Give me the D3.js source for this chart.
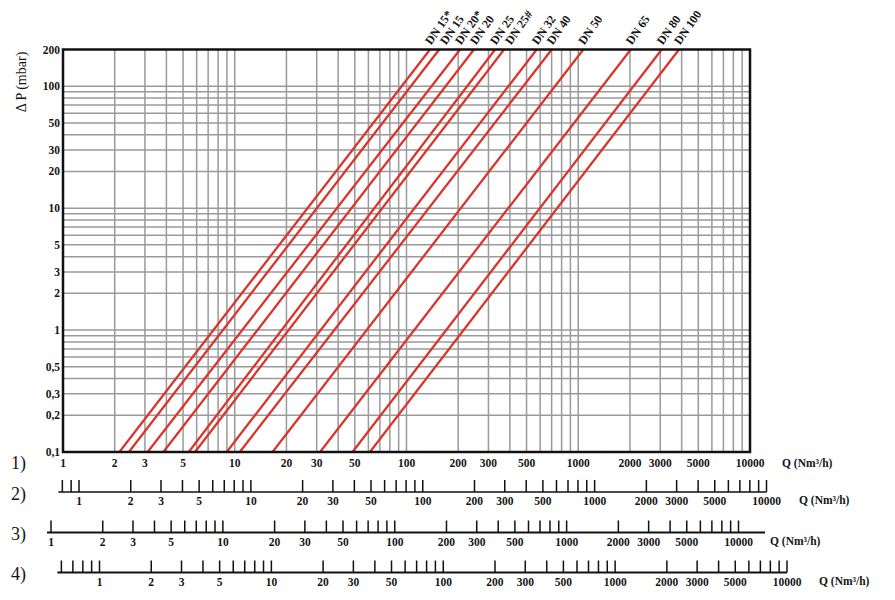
<!DOCTYPE html>
<html><head><meta charset="utf-8">
<script src="https://cdn.jsdelivr.net/npm/d3@7"></script>
<style>body{margin:0;background:#fff}svg{display:block}text{font-family:"Liberation Serif","DejaVu Serif",serif;fill:#151515}</style>
</head><body>
<svg id="c" width="895" height="600"></svg>
<script>
// ---- data ----
const series = ["DN 15*","DN 15","DN 20*","DN 20","DN 25","DN 25#","DN 32","DN 40","DN 50","DN 65","DN 80","DN 100"];
// Q (Nm3/h) where each line meets ΔP = 0.1 mbar and ΔP = 200 mbar
const qAtLow  = [2.13, 2.42, 3.11, 3.84, 5.40, 5.87, 8.98, 10.7, 16.6, 31.4, 48.5, 61.3];
const qAtHigh = [137, 155, 205, 247, 328, 370, 573, 701, 1070, 2021, 3061, 3861];
const dpLow = 0.1, dpHigh = 200;
const xLabels = [1,2,3,5,10,20,30,50,100,200,300,500,1000,2000,3000,5000,10000];
const yLabels = [200,100,50,30,20,10,5,3,2,1,0.5,0.3,0.2,0.1];
const axis2Extra = [0.8, 0.9];
const axis4Extra = [0.6, 0.7, 0.8, 0.9];
const axisNames = ["1)","2)","3)","4)"];
const qTitle = "Q (Nm³/h)";
const yTitle = "Δ P (mbar)";

// ---- layout ----
const svg = d3.select("#c");
const L = 63, R = 750, T = 49.5, B = 452;
const x = d3.scaleLog().domain([1,10000]).range([L,R]);
const y = d3.scaleLog().domain([0.1,200]).range([B,T]);

function logMinor(lo, hi){ const v=[]; for(let e=lo;e<hi;e++){for(let m=1;m<10;m++)v.push(m*Math.pow(10,e));} v.push(Math.pow(10,hi)); return v; }
const xGrid = logMinor(0,4);
const yGrid = logMinor(-1,2).filter(v=>v<=200);

const g = svg.append("g");
g.selectAll("line.vg").data(xGrid).join("line")
  .attr("x1",d=>x(d)).attr("x2",d=>x(d)).attr("y1",T).attr("y2",B)
  .attr("stroke","#9a9a9a").attr("stroke-width",1.5);
g.selectAll("line.hg").data(yGrid).join("line")
  .attr("y1",d=>y(d)).attr("y2",d=>y(d)).attr("x1",L).attr("x2",R)
  .attr("stroke","#9a9a9a").attr("stroke-width",1.5);

// red lines
svg.append("clipPath").attr("id","pc").append("rect").attr("x",L).attr("y",T).attr("width",R-L).attr("height",B-T);
const lineData = series.map((s,i)=>({name:s, pts:[[qAtLow[i],dpLow],[qAtHigh[i],dpHigh]]}));
const lineGen = d3.line().x(d=>x(d[0])).y(d=>y(d[1]));
svg.append("g").attr("clip-path","url(#pc)").selectAll("path").data(lineData).join("path")
  .attr("d",d=>lineGen(d.pts)).attr("fill","none").attr("stroke","#d9352c").attr("stroke-width",2.3);

// frame
svg.append("rect").attr("x",L).attr("y",T).attr("width",R-L).attr("height",B-T)
  .attr("fill","none").attr("stroke","#111").attr("stroke-width",2.5);

// series labels (avoid overlap)
let prev = -1e9;
lineData.forEach(d=>{
  let sx = Math.max(x(d.pts[1][0])+1, prev+15);
  prev = sx;
  svg.append("text").attr("transform",`translate(${sx},${T-4}) rotate(-55)`)
    .attr("font-size",12).attr("font-weight","bold").text(d.name);
});

// y labels
const fmt = v => String(v).replace(".",",");
svg.selectAll("text.yl").data(yLabels).join("text")
  .attr("x",L-3).attr("y",d=>y(d)).attr("dy","0.35em").attr("text-anchor","end")
  .attr("font-size",11.5).attr("font-weight","bold").text(fmt);
svg.append("text").attr("transform",`translate(26,82) rotate(-90)`).attr("text-anchor","middle")
  .attr("font-size",14).text(yTitle);

// axis 1 labels
svg.selectAll("text.xl").data(xLabels).join("text")
  .attr("x",d=>x(d)).attr("y",B+15).attr("text-anchor","middle")
  .attr("font-size",11.5).attr("font-weight","bold").text(d=>d);
svg.append("text").attr("x",782).attr("y",B+15).attr("font-size",11.5).attr("font-weight","bold").text(qTitle);

// extra axes
function extraAxis(x0, yLine, extra, lineEnd, lineW, titleX){
  const s = d3.scaleLog().domain([1,10000]).range([x0, x0+687.5]);
  const ticks = extra.concat(xGrid);
  const lo = d3.min(ticks);
  svg.append("line").attr("x1",s(lo)-4).attr("x2",lineEnd!=null?lineEnd:s(10000)).attr("y1",yLine).attr("y2",yLine)
    .attr("stroke","#111").attr("stroke-width",lineW);
  svg.append("g").selectAll("line").data(ticks).join("line")
    .attr("x1",d=>s(d)).attr("x2",d=>s(d)).attr("y1",yLine).attr("y2",yLine-12)
    .attr("stroke","#111").attr("stroke-width",1.5);
  svg.append("g").selectAll("text").data(xLabels).join("text")
    .attr("x",d=>s(d)).attr("y",yLine+13).attr("text-anchor","middle")
    .attr("font-size",11.5).attr("font-weight","bold").text(d=>d);
  svg.append("text").attr("x",titleX).attr("y",yLine+12).attr("font-size",11.5).attr("font-weight","bold").text(qTitle);
}
extraAxis(79, 492, axis2Extra, null, 1.3, 799);
extraAxis(51, 532.5, [], 765, 2.2, 770);
extraAxis(99.5, 572.5, axis4Extra, null, 1.8, 819);

// axis numbers
[463, 494, 534, 574].forEach((yy,i)=>{
  svg.append("text").attr("x",11).attr("y",yy).attr("dy","0.35em").attr("font-size",18).text(axisNames[i]);
});
</script>
</body></html>
